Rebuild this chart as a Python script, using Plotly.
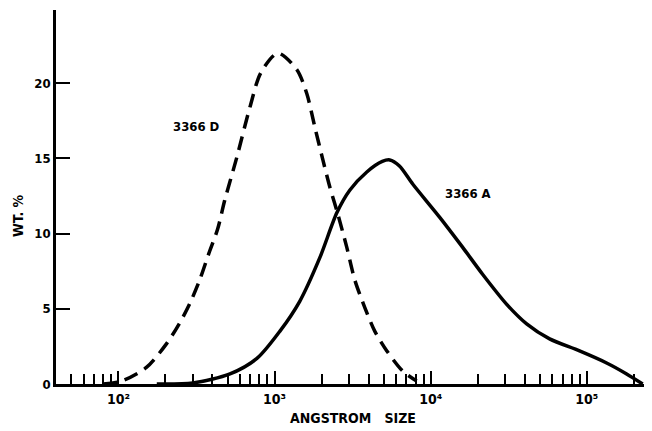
import plotly.graph_objects as go

# Sample 3366 D (dashed)
d_size = [80, 105, 151, 204, 245, 285, 331, 380, 432, 479, 574, 695, 817, 1050,
          1390, 1610, 1810, 2040, 2260, 2510, 2900, 3270, 3780, 4390, 5240, 6610, 8130]
d_wt = [0, 0.2, 1.1, 2.7, 4.0, 5.3, 6.9, 8.7, 10.3, 12.2, 15.1, 18.4, 20.7, 22.0,
        20.9, 19.3, 17.1, 14.9, 13.1, 11.5, 9.1, 6.9, 5.1, 3.5, 2.2, 0.87, 0.2]

# Sample 3366 A (solid)
a_size = [176, 300, 518, 771, 1080, 1450, 1950, 2510, 3040, 3900, 4900, 5470,
          6310, 7670, 11400, 16000, 21500, 30700, 41200, 57800, 89900, 134000, 180000, 228000]
a_wt = [0, 0.07, 0.67, 1.7, 3.5, 5.5, 8.4, 11.4, 12.9, 14.1, 14.8, 14.9,
        14.5, 13.3, 11.1, 9.1, 7.3, 5.3, 4.0, 3.0, 2.2, 1.4, 0.67, 0]

x_tick_vals = [100, 1000, 10000, 100000]
x_tick_text = ["10²", "10³", "10⁴", "10⁵"]
x_minor_vals = [m * 10 ** e for e in range(1, 6) for m in range(2, 10) if 40 <= m * 10 ** e <= 240000]
y_tick_vals = [0, 5, 10, 15, 20]

FONT = "DejaVu Sans Condensed, Liberation Sans Narrow, DejaVu Sans, sans-serif"

fig = go.Figure()
fig.add_trace(go.Scatter(x=d_size, y=d_wt, mode="lines", name="3366 D",
                         line=dict(color="black", width=3.5, dash="14px,8px", shape="spline", smoothing=0.8)))
fig.add_trace(go.Scatter(x=a_size, y=a_wt, mode="lines", name="3366 A",
                         line=dict(color="black", width=3.5, shape="spline", smoothing=0.8)))

fig.add_annotation(x=2.502, y=17.1, xref="x", yref="y", text="3366 D", showarrow=False,
                   font=dict(family=FONT, size=13, color="black", weight="bold"))
fig.add_annotation(x=4.24, y=12.7, xref="x", yref="y", text="3366 A", showarrow=False,
                   font=dict(family=FONT, size=13, color="black", weight="bold"))
fig.add_annotation(x=-0.064, y=0.452, xref="paper", yref="paper", text="WT. %",
                   textangle=-90, showarrow=False, xanchor="center", yanchor="middle",
                   font=dict(family=FONT, size=14, color="black", weight="bold"))

fig.update_layout(
    width=644, height=423,
    margin=dict(l=48, r=2, t=2, b=47),
    paper_bgcolor="white", plot_bgcolor="white",
    showlegend=False,
    font=dict(family=FONT, size=13, color="black", weight="bold"),
    xaxis=dict(
        type="log", range=[1.6, 5.405],
        showgrid=False, zeroline=False,
        showline=True, linecolor="black", linewidth=3,
        tickmode="array", tickvals=x_tick_vals, ticktext=x_tick_text,
        ticks="inside", ticklen=13, tickwidth=1.5, tickcolor="black",
        minor=dict(tickmode="array", tickvals=x_minor_vals, ticks="inside",
                   ticklen=10, tickwidth=1.5, tickcolor="black", showgrid=False),
        tickfont=dict(family=FONT, size=14, color="black", weight="bold"),
        title=dict(text="ANGSTROM   SIZE", standoff=8,
                   font=dict(family=FONT, size=14, color="black", weight="bold")),
    ),
    yaxis=dict(
        range=[0, 24.87],
        showgrid=False, zeroline=False,
        showline=True, linecolor="black", linewidth=2.5,
        tickmode="array", tickvals=y_tick_vals,
        ticks="inside", ticklen=14, tickwidth=2, tickcolor="black",
        tickfont=dict(family=FONT, size=13, color="black", weight="bold"),
    ),
)

fig.write_html("out.html")
